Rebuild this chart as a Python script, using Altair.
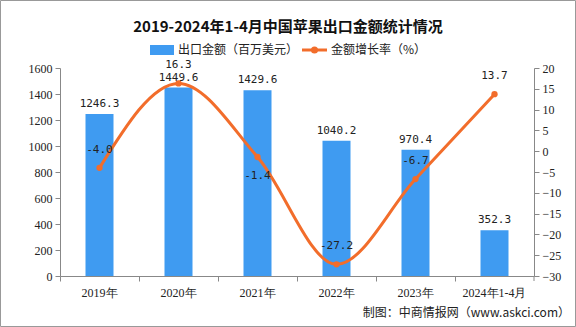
import altair as alt
import pandas as pd

years = ["2019年", "2020年", "2021年", "2022年", "2023年", "2024年1-4月"]
amount = [1246.3, 1449.6, 1429.6, 1040.2, 970.4, 352.3]
growth = [-4.0, 16.3, -1.4, -27.2, -6.7, 13.7]
growth_label_side = ["above", "above", "below", "above", "above", "above"]
left_ticks = [0, 200, 400, 600, 800, 1000, 1200, 1400, 1600]
right_ticks = [-30, -25, -20, -15, -10, -5, 0, 5, 10, 15, 20]

BLUE = "#3f9bf1"
ORANGE = "#f26d2b"
FONT = "Liberation Serif"
MONO = "DejaVu Sans Mono"
CJK = "Noto Sans CJK SC"

df = pd.DataFrame({"year": years, "amount": amount, "growth": growth, "side": growth_label_side})
df["amount_lbl"] = [f"{v:.1f}" for v in amount]
df["growth_lbl"] = [f"{v:.1f}" for v in growth]

W, H = 474, 208
PL, PT, PR, PB = 60, 68, 42, 51

x_axis = alt.Axis(labelAngle=0, labelFont=FONT, labelFontSize=12, labelColor="#222",
                  domainColor="#888", tickColor="#888", bandPosition=0,
                  labelPadding=6, tickSize=5)
xenc = alt.X("year:N", sort=years, title=None,
             scale=alt.Scale(paddingInner=0, paddingOuter=0), axis=x_axis)

left_axis = alt.Axis(values=left_ticks, grid=False, labelFont=FONT, format="d",
                     labelOverlap=False, labelFontSize=12, labelColor="#222",
                     domainColor="#888", tickColor="#888", tickSize=5, labelPadding=3)
right_axis = alt.Axis(orient="right", values=right_ticks, grid=False, format="d",
                      labelFont=FONT, labelFontSize=12, labelColor="#222", labelOverlap=False,
                      domainColor="#888", tickColor="#888", tickSize=5, labelPadding=3)

base = alt.Chart(df)
yl = alt.Y("amount:Q", title=None, scale=alt.Scale(domain=[0, 1600], nice=False), axis=left_axis)
yr = alt.Y("growth:Q", title=None, scale=alt.Scale(domain=[-30, 20], nice=False), axis=right_axis)

bars = base.mark_bar(size=28, color=BLUE).encode(x=xenc, y=yl)
bar_txt = base.mark_text(dy=-10, font=MONO, fontSize=11, color="#222").encode(
    x=xenc, y=yl, text="amount_lbl:N")
left = alt.layer(bars, bar_txt)

line = base.mark_line(color=ORANGE, strokeWidth=3, interpolate="monotone").encode(x=xenc, y=yr)
pts = base.mark_point(filled=True, color=ORANGE, size=40, opacity=1).encode(x=xenc, y=yr)
txt_above = base.transform_filter("datum.side == 'above'").mark_text(
    dy=-18, font=MONO, fontSize=11, color="#222").encode(x=xenc, y=yr, text="growth_lbl:N")
txt_below = base.transform_filter("datum.side == 'below'").mark_text(
    dy=19, font=MONO, fontSize=11, color="#222").encode(x=xenc, y=yr, text="growth_lbl:N")
right = alt.layer(line, pts, txt_above, txt_below)

deco = pd.DataFrame({"k": [0]})
d = alt.Chart(deco)
title = d.mark_text(text="2019-2024年1-4月中国苹果出口金额统计情况", font=CJK, fontSize=15,
                    fontWeight="bold", color="#111", align="center", baseline="middle").encode(
    x=alt.value(228), y=alt.value(-41))
leg_rect = d.mark_rect(color=BLUE).encode(
    x=alt.value(90), x2=alt.value(114), y=alt.value(-23), y2=alt.value(-13))
leg_t1 = d.mark_text(text="出口金额（百万美元）", font=CJK, fontSize=12, color="#222",
                     align="left", baseline="middle").encode(x=alt.value(118), y=alt.value(-18))
leg_line = d.mark_rule(color=ORANGE, strokeWidth=3).encode(
    x=alt.value(242), x2=alt.value(267), y=alt.value(-18))
leg_pt = d.mark_point(filled=True, color=ORANGE, size=50, opacity=1).encode(
    x=alt.value(254.5), y=alt.value(-18))
leg_t2 = d.mark_text(text="金额增长率（%）", font=CJK, fontSize=12, color="#222",
                     align="left", baseline="middle").encode(x=alt.value(271), y=alt.value(-18))
footer = d.mark_text(text="制图：中商情报网（www.askci.com）", font=CJK, fontSize=12, color="#222",
                     align="right", baseline="middle").encode(x=alt.value(510), y=alt.value(245))
endtick = d.mark_rule(color="#888").encode(
    x=alt.value(W), y=alt.value(H), y2=alt.value(H + 5))
border = d.mark_rect(fillOpacity=0, stroke="#999", strokeWidth=1).encode(
    x=alt.value(-PL + 0.5), x2=alt.value(W + PR - 0.5),
    y=alt.value(-PT + 0.5), y2=alt.value(H + PB - 0.5))

chart = alt.layer(left, right, title, leg_rect, leg_t1, leg_line, leg_pt, leg_t2, footer,
                  endtick, border).resolve_scale(y="independent").properties(
    width=W, height=H,
    padding={"left": PL, "top": PT, "right": PR, "bottom": PB},
    autosize=alt.AutoSizeParams(type="none"),
    background="white",
).configure_view(stroke=None)

chart.save("out.html", embed_options={"renderer": "svg", "actions": False})
